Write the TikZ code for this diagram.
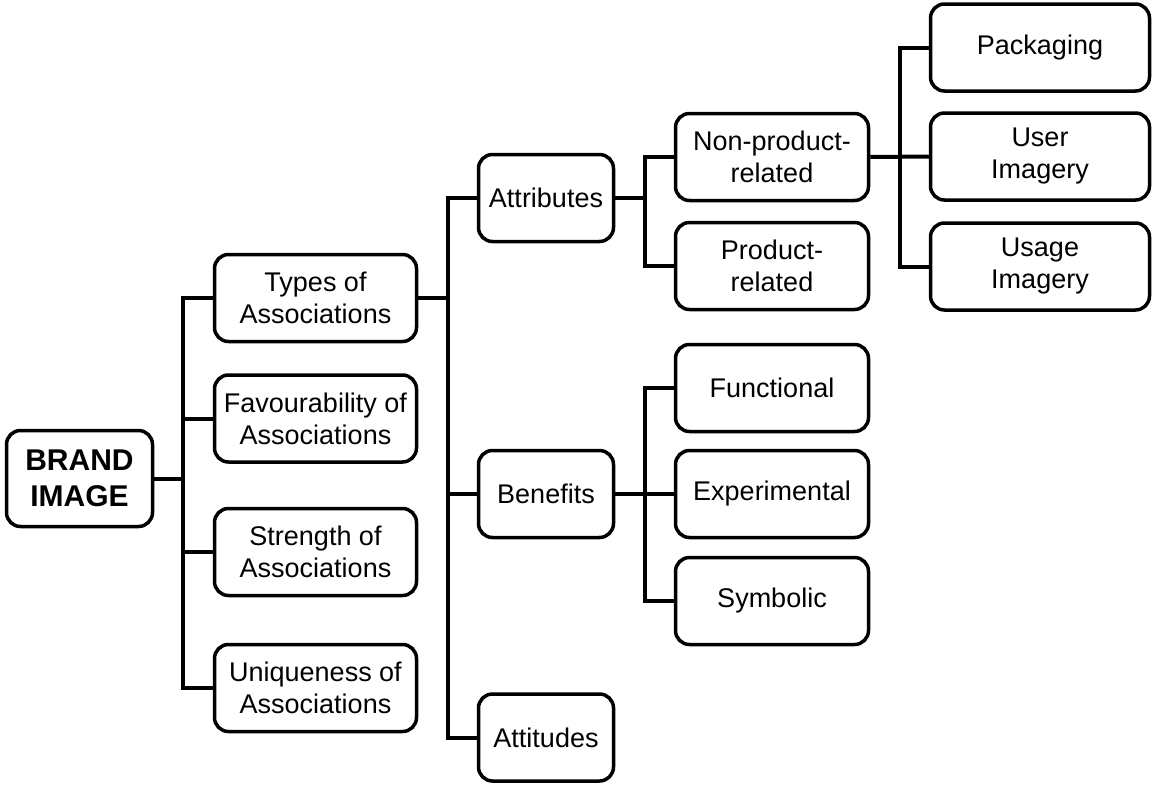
\documentclass[tikz,border=0pt]{standalone}
\usepackage{fontspec}
\setmainfont{Liberation Sans}
\begin{document}
\begin{tikzpicture}[x=1pt,y=-1pt,
  box/.style={draw, line width=3.5pt, rounded corners=14pt, inner sep=0pt,
    align=center, font=\fontsize{27}{32}\selectfont, minimum height=87pt},
  lvlone/.style={box, minimum width=202pt},
  lvltwo/.style={box, minimum width=135pt},
  lvlthree/.style={box, minimum width=193pt},
  lvlfour/.style={box, minimum width=219pt},
  link/.style={line width=4pt, line join=miter}]
\useasboundingbox (0,0) rectangle (1152,785);

% root
\node[box, minimum width=146pt, minimum height=96pt,
  font=\fontsize{30}{36}\selectfont\bfseries] (brand) at (79.5,478.5) {BRAND\\IMAGE};

% first level
\node[lvlone] (types) at (315.5,298)   {Types of\\Associations};
\node[lvlone] (fav)   at (315.5,418.5) {Favourability of\\Associations};
\node[lvlone] (str)   at (315.5,552)   {Strength of\\Associations};
\node[lvlone] (uniq)  at (315.5,688)   {Uniqueness of\\Associations};

% second level
\node[lvltwo] (attr) at (546,198)   {Attributes};
\node[lvltwo] (ben)  at (546,494)   {Benefits};
\node[lvltwo] (att)  at (546,737.5) {Attitudes};

% third level
\node[lvlthree] (nonprod) at (772,157) {Non-product-\\related};
\node[lvlthree] (prod)    at (772,266) {Product-\\related};
\node[lvlthree] (func)    at (772,388) {Functional};
\node[lvlthree] (exper)   at (772,494) {Experimental};
\node[lvlthree] (symb)    at (772,601) {Symbolic};

% fourth level
\node[lvlfour] (pack)  at (1040,47.5)  {Packaging};
\node[lvlfour] (user)  at (1040,156.5) {User\\Imagery};
\node[lvlfour] (usage) at (1040,266.5) {Usage\\Imagery};

% trunk positions
\coordinate (ta) at (183,0);
\coordinate (tb) at (448,0);
\coordinate (tc) at (645,0);
\coordinate (td) at (900,0);

% root to first level
\draw[link] (brand.east) -- (brand.east -| ta);
\draw[link] (types.west) -- (types.west -| ta) -- (uniq.west -| ta) -- (uniq.west);
\draw[link] (fav.west) -- (fav.west -| ta);
\draw[link] (str.west) -- (str.west -| ta);

% types to second level
\draw[link] (types.east) -- (types.east -| tb);
\draw[link] (attr.west) -- (attr.west -| tb) -- (att.west -| tb) -- (att.west);
\draw[link] (ben.west) -- (ben.west -| tb);

% attributes to third level
\draw[link] (attr.east) -- (attr.east -| tc);
\draw[link] (nonprod.west) -- (nonprod.west -| tc) -- (prod.west -| tc) -- (prod.west);

% benefits to third level
\draw[link] (ben.east) -- (exper.west);
\draw[link] (func.west) -- (func.west -| tc) -- (symb.west -| tc) -- (symb.west);

% non-product-related to fourth level
\draw[link] (nonprod.east) -- (user.west);
\draw[link] (pack.west) -- (pack.west -| td) -- (usage.west -| td) -- (usage.west);
\end{tikzpicture}
\end{document}
